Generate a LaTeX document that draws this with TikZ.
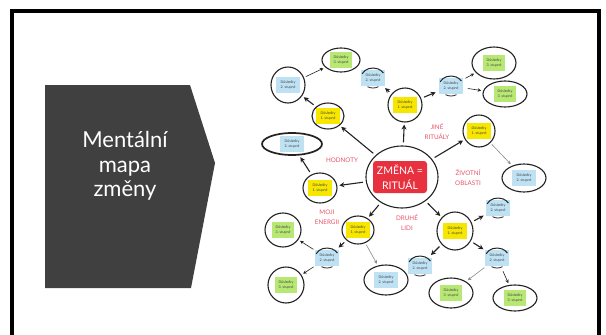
\documentclass[tikz,border=0pt]{standalone}
\usepackage{fontspec}
\setmainfont{Lato}
\usetikzlibrary{shapes.geometric,arrows.meta}
\definecolor{chev}{HTML}{404040}
\definecolor{ycol}{HTML}{F6E600}
\definecolor{bcol}{HTML}{BEE2F4}
\definecolor{gcol}{HTML}{B8E874}
\definecolor{rbox}{HTML}{E8313F}
\definecolor{rlab}{HTML}{E8566A}
\definecolor{ink}{HTML}{222222}
\begin{document}
\begin{tikzpicture}[x=1pt,y=-1pt,
  ell/.style={ellipse,draw=ink,line width=1.1pt,inner sep=0pt},
  hid/.style={ellipse,inner sep=0pt,minimum width=30pt,minimum height=24pt},
  cbox/.style={rectangle,inner sep=0.5pt,minimum width=24pt,minimum height=16pt,align=center,
     font=\fontsize{3.6}{4.6}\selectfont,text=black!75},
  ybox/.style={cbox,fill=ycol},
  bbox/.style={cbox,fill=bcol},
  gbox/.style={cbox,fill=gcol,minimum width=22pt},
  lab/.style={text=rlab,align=center,font=\fontsize{6.3}{10}\selectfont},
  arr/.style={draw=ink,line width=1.1pt,-{Stealth[length=5pt,width=5pt]},shorten >=2pt,shorten <=3pt},
  tarr/.style={draw=ink,line width=0.6pt,-{Stealth[length=3.5pt,width=3.5pt]},shorten >=2pt,shorten <=2pt},
  garr/.style={draw=black!45,line width=0.6pt,-{Stealth[length=3.5pt,width=3.5pt]},shorten >=2pt,shorten <=2pt},
  sk/.style={draw=ink,line width=1pt}
]
\useasboundingbox (0,0) rectangle (606,335);
\fill[white] (0,0) rectangle (606,335);
\draw[line width=4pt] (12,11) rectangle (598.5,345);

% chevron
\fill[chev] (45,85) -- (190,85) -- (215,163) -- (191,288) -- (45,288) -- cycle;
\node[text=white,align=center,font=\fontsize{22}{24.5}\selectfont] (title) at (125,166) {Mentální\\mapa\\změny};

% centre
\node[ell,minimum width=72pt,minimum height=62pt] (C) at (402,177) {};
\node[rectangle,fill=rbox,rounded corners=3pt,minimum width=54pt,minimum height=32pt,inner sep=1pt,
  text=white,align=center,font=\fontsize{10.5}{15}\selectfont] (Ct) at (400,177) {ZMĚNA =\\RITUÁL};

% full circles
\node[ell,minimum width=38pt,minimum height=24pt] (G3a) at (341,60) {};
\node[gbox] (G3at) at (G3a) {Důsledky\\3. stupně};
\node[ell,minimum width=34pt,minimum height=36pt] (B2a) at (288,85) {};
\node[bbox] (B2at) at (B2a) {Důsledky\\2. stupně};
\node[ell,minimum width=32pt,minimum height=26pt] (Y1a) at (328,116) {};
\node[ybox] (Y1at) at (Y1a) {Důsledky\\1. stupně};
\node[ell,line width=1.7pt,minimum width=60pt,minimum height=22pt] (B2b) at (292,144) {};
\node[bbox] (B2bt) at (B2b) {Důsledky\\2. stupně};
\node[ell,minimum width=34pt,minimum height=30pt] (Y1b) at (320,188) {};
\node[ybox] (Y1bt) at (Y1b) {Důsledky\\1. stupně};
\node[ell,minimum width=34pt,minimum height=34pt] (Y1c) at (405,105) {};
\node[ybox] (Y1ct) at (Y1c) {Důsledky\\1. stupně};
\node[ell,minimum width=44pt,minimum height=32pt] (G3b) at (494,63) {};
\node[gbox] (G3bt) at (G3b) {Důsledky\\3. stupně};
\node[ell,minimum width=44pt,minimum height=26pt] (G3c) at (505,94) {};
\node[gbox] (G3ct) at (G3c) {Důsledky\\3. stupně};
\node[ell,minimum width=32pt,minimum height=32pt] (Y1d) at (479,131) {};
\node[ybox] (Y1dt) at (Y1d) {Důsledky\\1. stupně};
\node[ell,minimum width=44pt,minimum height=28pt] (B2e) at (524,178) {};
\node[bbox] (B2et) at (B2e) {Důsledky\\2. stupně};
\node[ell,minimum width=36pt,minimum height=38pt] (Y1e) at (455,231) {};
\node[ybox] (Y1et) at (Y1e) {Důsledky\\1. stupně};
\node[ell,minimum width=44pt,minimum height=30pt] (G3d) at (451,293) {};
\node[gbox] (G3dt) at (G3d) {Důsledky\\3. stupně};
\node[ell,minimum width=44pt,minimum height=26pt] (G3e) at (515,298) {};
\node[gbox] (G3et) at (G3e) {Důsledky\\3. stupně};
\node[ell,minimum width=32pt,minimum height=28pt] (Y1f) at (358,230) {};
\node[ybox] (Y1ft) at (Y1f) {Důsledky\\1. stupně};
\node[ell,minimum width=44pt,minimum height=30pt] (B2j) at (386,280) {};
\node[bbox] (B2jt) at (B2j) {Důsledky\\2. stupně};
\node[ell,minimum width=36pt,minimum height=34pt] (G3f) at (283,230) {};
\node[gbox] (G3ft) at (G3f) {Důsledky\\3. stupně};
\node[ell,minimum width=36pt,minimum height=36pt] (G3g) at (286,285) {};
\node[gbox] (G3gt) at (G3g) {Důsledky\\3. stupně};

% small blue nodes with partial circles
\node[hid] (B2c) at (373,78) {};
\node[bbox] (B2ct) at (B2c) {Důsledky\\2. stupně};
\node[hid] (B2d) at (451,86) {};
\node[bbox] (B2dt) at (B2d) {Důsledky\\2. stupně};
\node[hid] (B2f) at (498,208) {};
\node[bbox] (B2ft) at (B2f) {Důsledky\\2. stupně};
\node[hid] (B2g) at (497,258) {};
\node[bbox] (B2gt) at (B2g) {Důsledky\\2. stupně};
\node[hid] (B2h) at (420,266) {};
\node[bbox] (B2ht) at (B2h) {Důsledky\\2. stupně};
\node[hid] (B2i) at (327,258) {};
\node[bbox] (B2it) at (B2i) {Důsledky\\2. stupně};

\foreach \n in {B2c,B2d,B2f,B2g,B2h,B2i}{
  \draw[sk] (\n.center) ++(205:12 and 10) arc[start angle=205,end angle=330,x radius=12,y radius=10];
  \draw[sk,line width=0.8pt] (\n.center) ++(60:11 and 10) arc[start angle=60,end angle=120,x radius=11,y radius=10];
}

% labels
\node[lab] (lh) at (342,160) {HODNOTY};
\node[lab] (lj) at (437,132) {JINÉ\\RITUÁLY};
\node[lab] (lz) at (468,178) {ŽIVOTNÍ\\OBLASTI};
\node[lab] (lm) at (327,217) {MOJI\\ENERGII};
\node[lab] (ld) at (407,223) {DRUHÉ\\LIDI};

% connectors
\draw[arr] (C) -- (Y1a);
\draw[arr] (C) -- (Y1c);
\draw[arr] (C) -- (Y1d);
\draw[arr] (C) -- (Y1e);
\draw[arr] (C) -- (Y1f);
\draw[arr] (C) -- (Y1b);
\draw[arr] (Y1a) -- (B2a);
\draw[tarr] (B2a) -- (G3a);
\draw[arr] (Y1b) -- (B2b);
\draw[arr] (Y1c) -- (B2c);
\draw[arr] (Y1c) -- (B2d);
\draw[tarr] (B2d) -- (G3b);
\draw[tarr] (B2d) -- (G3c);
\draw[garr] (Y1d) -- (B2e);
\draw[arr] (Y1e) -- (B2f);
\draw[arr] (Y1e) -- (B2g);
\draw[arr] (Y1e) -- (B2h);
\draw[garr] (B2g) -- (G3d);
\draw[tarr] (B2g) -- (G3e);
\draw[arr] (Y1f) -- (B2i);
\draw[garr] (Y1f) -- (B2j);
\draw[tarr] (B2i) -- (G3f);
\draw[tarr] (B2i) -- (G3g);
\end{tikzpicture}
\end{document}
